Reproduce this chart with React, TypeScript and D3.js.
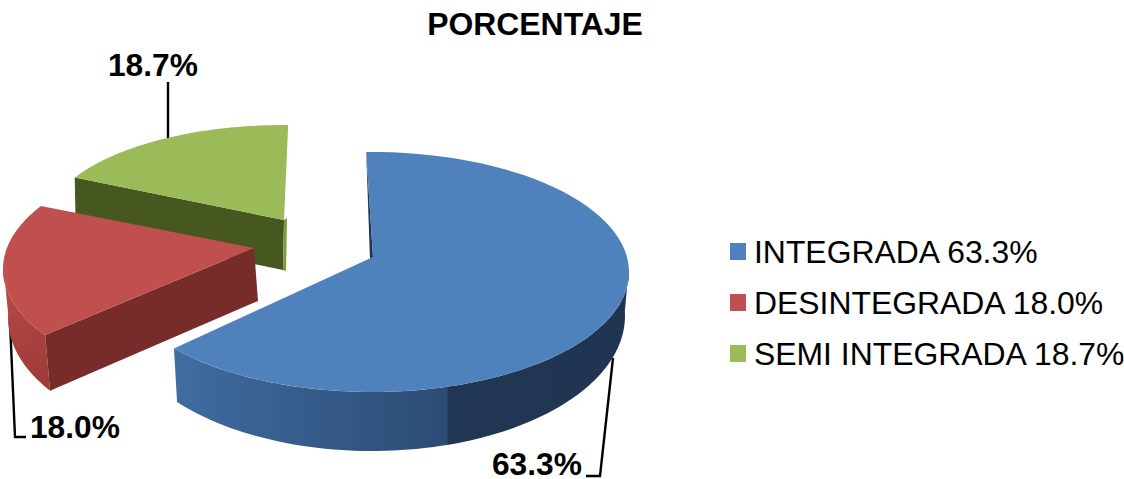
import React from "react";
import * as d3 from "d3";

const categories = ["INTEGRADA", "DESINTEGRADA", "SEMI INTEGRADA"];
const values = [63.3, 18.0, 18.7];
const colors = ["#4f81bd", "#c0504d", "#9bbb59"];
const rimColors = ["url(#blueWall)", "url(#redRim)", "#465820"];
const chordColors = ["#3c6593", "#772c2a", "#465820"];

type Ell = { cx: number; cy: number; rx: number; ry: number };
type Geo = {
  top: Ell; bottom: Ell; apex: [number, number]; apexLow: [number, number];
  t0: number; t1: number; rim: [number, number];
};
const rad = Math.PI / 180;
const geometry: Geo[] = [
  {
    top: { cx: 372, cy: 272, rx: 257, ry: 120 }, bottom: { cx: 372, cy: 316, rx: 253, ry: 135 },
    apex: [373, 257], apexLow: [370, 259], t0: -1.3, t1: 230.4, rim: [88, 230.4],
  },
  {
    top: { cx: 254, cy: 269, rx: 251, ry: 119 }, bottom: { cx: 258, cy: 318, rx: 250, ry: 131 },
    apex: [254, 248], apexLow: [258, 301], t0: 236.3, t1: 301.9, rim: [236.3, 272],
  },
  {
    top: { cx: 284, cy: 228, rx: 240, ry: 103 }, bottom: { cx: 285, cy: 278, rx: 240, ry: 103 },
    apex: [284, 220], apexLow: [283, 270], t0: 299.3, t1: 361, rim: [299.3, 299.3],
  },
];

const pt = (e: Ell, a: number): [number, number] => [
  e.cx + e.rx * Math.sin(a * rad),
  e.cy - e.ry * Math.cos(a * rad),
];
const line = d3.line();
const arcPts = (e: Ell, a0: number, a1: number): [number, number][] =>
  d3.range(0, 81).map((i) => pt(e, a0 + ((a1 - a0) * i) / 80));

const pie = d3.pie<number>().sort(null).value((d) => d).startAngle(0).endAngle(2 * Math.PI);

const labelFont = "'Liberation Sans', Arial, sans-serif";
const dataLabels = [
  { i: 0, x: 492, y: 475, path: [[613, 358], [600, 476], [586, 476]] },
  { i: 1, x: 30, y: 438, path: [[10, 322], [15, 437], [26, 437]] },
  { i: 2, x: 108, y: 76, path: [[168, 82], [168, 140]] },
];
const legendRows = [261, 312, 363];

export default function App() {
  const arcs = pie(values);
  const slices = arcs.map((s, i) => {
    const g = geometry[i];
    const angle = d3.scaleLinear().domain([s.startAngle, s.endAngle]).range([g.t0, g.t1]);
    const a0 = angle(s.startAngle);
    const a1 = angle(s.endAngle);
    const face = line([g.apex, ...arcPts(g.top, a0, a1)]) + "Z";
    const rim = line([...arcPts(g.top, g.rim[0], g.rim[1]), ...arcPts(g.bottom, g.rim[1], g.rim[0])]) + "Z";
    const chordAngle = i === 1 ? a0 : i === 2 ? a0 : a1;
    const chord = line([g.apex, pt(g.top, chordAngle), pt(g.bottom, chordAngle), g.apexLow]) + "Z";
    return { face, rim, chord, i, g, a0 };
  });
  const blue = slices[0], red = slices[1], green = slices[2];
  const blueInner = line([
    pt(blue.g.top, blue.a0), blue.g.apex, blue.g.apexLow,
    [pt(blue.g.top, blue.a0)[0] + 0.5, pt(blue.g.top, blue.a0)[1] + 14],
  ]) + "Z";
  const greenEdge = line([
    green.g.apex, [green.g.apex[0] + 3, green.g.apex[1] - 2],
    [green.g.apexLow[0] + 3, green.g.apexLow[1] + 1], green.g.apexLow,
  ]) + "Z";

  return (
    <svg width={1124} height={479} style={{ position: "absolute", left: 0, top: 0, display: "block", background: "#fff" }}>
      <defs>
        <linearGradient id="blueWall" gradientUnits="userSpaceOnUse" x1={174} y1={0} x2={629} y2={0}>
          <stop offset="0" stopColor="#406ca0" />
          <stop offset="0.27" stopColor="#365d8c" />
          <stop offset="0.6" stopColor="#2b4c74" />
          <stop offset="0.602" stopColor="#203652" />
          <stop offset="1" stopColor="#1f3552" />
        </linearGradient>
        <linearGradient id="redRim" gradientUnits="userSpaceOnUse" x1={0} y1={280} x2={40} y2={390}>
          <stop offset="0" stopColor="#b84a47" />
          <stop offset="1" stopColor="#9c3a38" />
        </linearGradient>
      </defs>

      <text x={535} y={35} textAnchor="middle" fontFamily={labelFont} fontWeight={700} fontSize={31.9} fill="#000">
        PORCENTAJE
      </text>

      {dataLabels.map((d) => (
        <path key={`l${d.i}`} d={line(d.path as [number, number][]) ?? ""} fill="none" stroke="#000" strokeWidth={2.4} />
      ))}

      <path d={green.chord} fill={chordColors[2]} />
      <path d={greenEdge} fill="#7c9a3e" />
      <path d={green.face} fill={colors[2]} />

      <path d={red.rim} fill={rimColors[1]} />
      <path d={red.chord} fill={chordColors[1]} />
      <path d={red.face} fill={colors[1]} />

      <path d={blue.rim} fill={rimColors[0]} />
      <path d={blueInner} fill="#1f3552" />
      <path d={blue.face} fill={colors[0]} />

      {dataLabels.map((d) => (
        <text key={`t${d.i}`} x={d.x} y={d.y} fontFamily={labelFont} fontWeight={700} fontSize={31.7} fill="#000">
          {`${values[d.i].toFixed(1)}%`}
        </text>
      ))}

      {categories.map((c, i) => (
        <g key={c}>
          <rect x={730} y={legendRows[i] - 18} width={16} height={17} fill={colors[i]} />
          <text x={754} y={legendRows[i] + 2} fontFamily={labelFont} fontSize={31.9} fill="#000">
            {`${c} ${values[i].toFixed(1)}%`}
          </text>
        </g>
      ))}
    </svg>
  );
}
